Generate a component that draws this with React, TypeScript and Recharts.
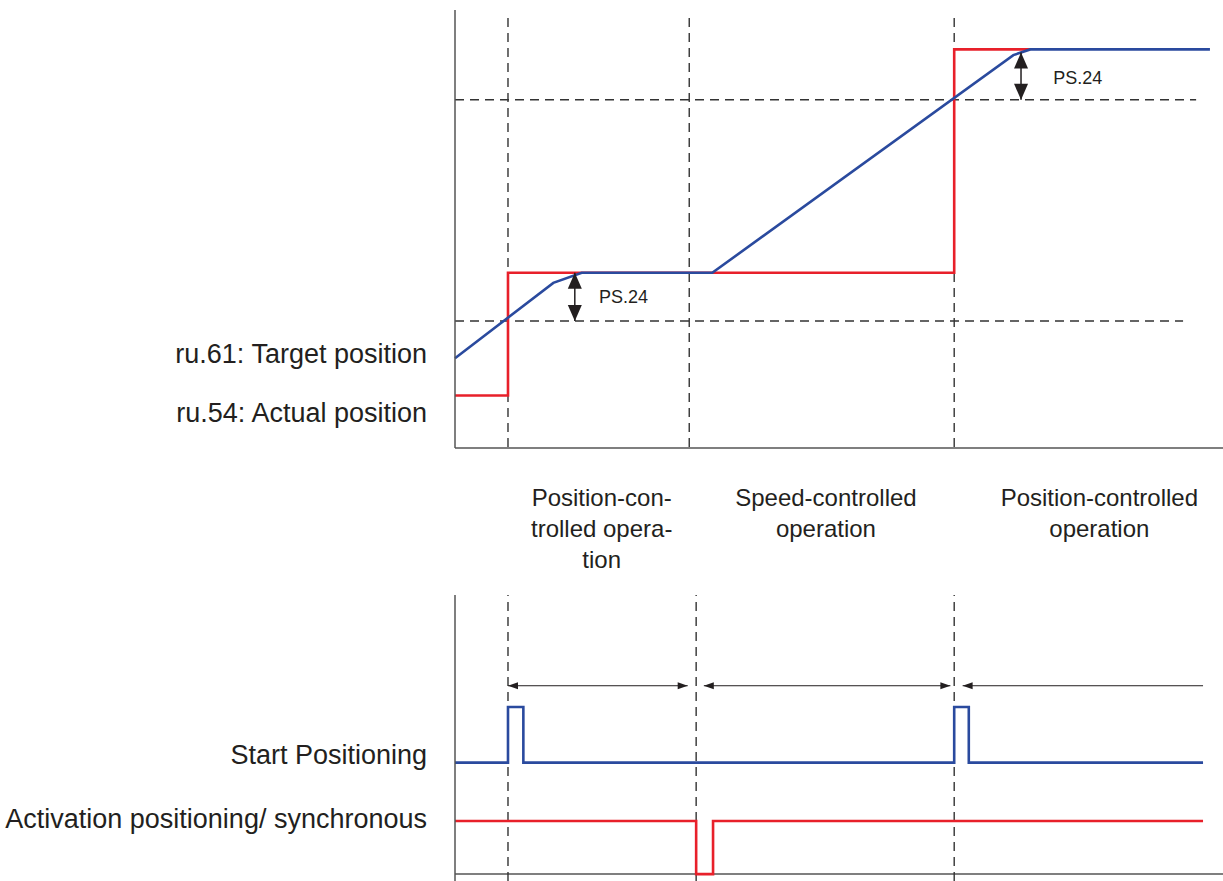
import React from 'react';
import { LineChart, Line, XAxis, YAxis, ReferenceLine, ReferenceDot } from 'recharts';

const FONT = '"Liberation Sans", Arial, Helvetica, sans-serif';
const RED = '#e8202a';
const BLUE = '#2a4a9e';
const INK = '#231f20';
const DASH = '#333333';
const AXIS = '#555555';

// time runs 0..100 across the plot; position 0..100 in the upper plot
const targetTime = [0, 6.9, 6.9, 65, 65, 74.9];
const targetPos = [12, 12, 40, 40, 91, 91];
const actualTime = [0, 12.8, 16.5, 33.5, 72.7, 74.9, 98.3];
const actualPos = [20.5, 37.7, 40, 40, 89.7, 91, 91];

// PS.24 window below each target
const windowLevels = [29, 79.5];
const windowEnds = [94.8, 96.5];
const topEvents = [6.9, 30.5, 65];
const ps24Time = [15.6, 73.7];
const ps24From = [29, 79.5];
const ps24To = [40, 90.3];
const ps24TextTime = [18.75, 77.9];
const ps24TextPos = [34.5, 84.5];

// lower plot, digital signals
const startTime = [0, 6.9, 6.9, 8.9, 8.9, 65, 65, 66.9, 66.9, 97.4];
const startLevel = [2.1, 2.1, 3.15, 3.15, 2.1, 2.1, 3.15, 3.15, 2.1, 2.1];
const activationTime = [0, 31.4, 31.4, 33.6, 33.6, 97.4];
const activationLevel = [1, 1, 0, 0, 1, 1];
const bottomEvents = [6.9, 31.4, 65];
const spanFrom = [6.9, 32.4, 66.1];
const spanTo = [30.3, 64.5, 97.4];
const spanRightHead = [true, true, false];
const spanLevel = 3.55;

const modeTicks = [19.1, 48.3, 83.9];
const modeLabels = [
  ['Position-con-', 'trolled opera-', 'tion'],
  ['Speed-controlled', 'operation'],
  ['Position-controlled', 'operation'],
];
const positionTicks = [21.7, 8.2];
const positionLabels = ['ru.61: Target position', 'ru.54: Actual position'];
const signalTicks = [2.25, 1.06];
const signalLabels = ['Start Positioning', 'Activation positioning/ synchronous'];

const zip = (xs: number[], ys: number[]) => xs.map((t, i) => ({ t, v: ys[i] }));

const head = (dir: string, len: number, half: number) => (props: any) => {
  const { cx, cy } = props;
  let pts = '';
  if (dir === 'up') pts = `${cx},${cy} ${cx - half},${cy + len} ${cx + half},${cy + len}`;
  if (dir === 'down') pts = `${cx},${cy} ${cx - half},${cy - len} ${cx + half},${cy - len}`;
  if (dir === 'left') pts = `${cx},${cy} ${cx + len},${cy - half} ${cx + len},${cy + half}`;
  if (dir === 'right') pts = `${cx},${cy} ${cx - len},${cy - half} ${cx - len},${cy + half}`;
  return <polygon points={pts} fill={INK} />;
};

const psText = (props: any) => (
  <text x={props.cx} y={props.cy} dy="0.36em" fontFamily={FONT} fontSize={18} fill={INK}>
    PS.24
  </text>
);

const SideTick = ({ x, y, payload, ticks, labels }: any) => {
  const i = ticks.indexOf(payload.value);
  return (
    <text x={x} y={y} dy="0.36em" textAnchor="end" fontFamily={FONT} fontSize={27} fill={INK}>
      {labels[i]}
    </text>
  );
};

const ModeTick = ({ x, y, payload }: any) => {
  const lines = modeLabels[modeTicks.indexOf(payload.value)] || [];
  return (
    <text x={x} y={y + 58} textAnchor="middle" fontFamily={FONT} fontSize={24} fill={INK}>
      {lines.map((l, i) => (
        <tspan key={i} x={x} dy={i === 0 ? 0 : 31}>
          {l}
        </tspan>
      ))}
    </text>
  );
};

export default function App() {
  return (
    <div style={{ position: 'absolute', left: 0, top: 0, width: 1223, height: 881, background: '#fff' }}>
      <div style={{ position: 'absolute', left: 0, top: 0 }}>
        <LineChart width={1223} height={580} margin={{ top: 10, right: 0, bottom: 0, left: 0 }}>
          <XAxis
            dataKey="t"
            type="number"
            domain={[0, 100]}
            ticks={modeTicks}
            interval={0}
            height={132}
            tickSize={0}
            tickMargin={0}
            tickLine={false}
            axisLine={{ stroke: AXIS, strokeWidth: 1.5 }}
            tick={<ModeTick />}
          />
          <YAxis
            type="number"
            domain={[0, 100]}
            width={455}
            ticks={positionTicks}
            interval={0}
            tickSize={0}
            tickMargin={28}
            tickLine={false}
            axisLine={{ stroke: AXIS, strokeWidth: 1.5 }}
            tick={<SideTick ticks={positionTicks} labels={positionLabels} />}
          />
          {topEvents.map((t, i) => (
            <ReferenceLine key={'tv' + i} segment={[{ x: t, y: 98.2 }, { x: t, y: 0 }]} stroke={DASH} strokeWidth={1.4} strokeDasharray="9 6" />
          ))}
          {windowLevels.map((v, i) => (
            <ReferenceLine key={'th' + i} segment={[{ x: 0, y: v }, { x: windowEnds[i], y: v }]} stroke={DASH} strokeWidth={1.4} strokeDasharray="9 6" />
          ))}
          <Line data={zip(targetTime, targetPos)} dataKey="v" type="linear" dot={false} stroke={RED} strokeWidth={2.6} isAnimationActive={false} />
          <Line data={zip(actualTime, actualPos)} dataKey="v" type="linear" dot={false} stroke={BLUE} strokeWidth={2.6} isAnimationActive={false} />
          {ps24Time.map((t, i) => (
            <ReferenceLine key={'pa' + i} segment={[{ x: t, y: ps24From[i] }, { x: t, y: ps24To[i] }]} stroke={INK} strokeWidth={1.5} />
          ))}
          {ps24Time.map((t, i) => (
            <ReferenceDot key={'pu' + i} x={t} y={ps24To[i]} r={0} shape={head('up', 16, 7)} />
          ))}
          {ps24Time.map((t, i) => (
            <ReferenceDot key={'pd' + i} x={t} y={ps24From[i]} r={0} shape={head('down', 16, 7)} />
          ))}
          {ps24TextTime.map((t, i) => (
            <ReferenceDot key={'pt' + i} x={t} y={ps24TextPos[i]} r={0} shape={psText} />
          ))}
        </LineChart>
      </div>
      <div style={{ position: 'absolute', left: 0, top: 580 }}>
        <LineChart width={1223} height={301} margin={{ top: 15, right: 0, bottom: 0, left: 0 }}>
          <XAxis dataKey="t" type="number" domain={[0, 100]} hide />
          <YAxis
            type="number"
            domain={[-0.13, 5.26]}
            width={455}
            ticks={signalTicks}
            interval={0}
            tickSize={0}
            tickMargin={28}
            tickLine={false}
            axisLine={{ stroke: AXIS, strokeWidth: 1.5 }}
            tick={<SideTick ticks={signalTicks} labels={signalLabels} />}
          />
          <ReferenceLine y={0} stroke={AXIS} strokeWidth={1.5} />
          {bottomEvents.map((t, i) => (
            <ReferenceLine key={'bv' + i} x={t} stroke={DASH} strokeWidth={1.4} strokeDasharray="9 6" />
          ))}
          {spanFrom.map((t, i) => (
            <ReferenceLine key={'sl' + i} segment={[{ x: t, y: spanLevel }, { x: spanTo[i], y: spanLevel }]} stroke={INK} strokeWidth={1} />
          ))}
          {spanFrom.map((t, i) => (
            <ReferenceDot key={'sh' + i} x={t} y={spanLevel} r={0} shape={head('left', 10, 3.5)} />
          ))}
          {spanTo.map((t, i) =>
            spanRightHead[i] ? <ReferenceDot key={'sr' + i} x={t} y={spanLevel} r={0} shape={head('right', 10, 3.5)} /> : null
          )}
          <Line data={zip(activationTime, activationLevel)} dataKey="v" type="linear" dot={false} stroke={RED} strokeWidth={2.6} isAnimationActive={false} />
          <Line data={zip(startTime, startLevel)} dataKey="v" type="linear" dot={false} stroke={BLUE} strokeWidth={2.6} isAnimationActive={false} />
        </LineChart>
      </div>
    </div>
  );
}
